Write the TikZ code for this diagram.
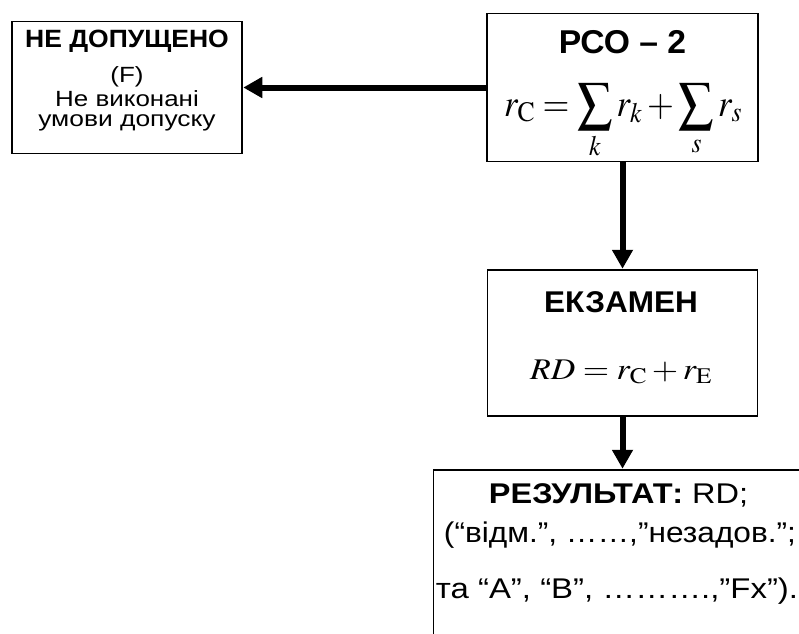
\documentclass[tikz,border=0pt]{standalone}
\usepackage{mathptmx}
\usepackage[no-math]{fontspec}
\setmainfont{Liberation Sans}
\usepackage{graphicx}
\usetikzlibrary{arrows.meta}
\begin{document}
\begin{tikzpicture}[x=1pt,y=-1pt,
  box/.style={draw, line width=1.5pt, inner sep=0pt, fill=white},
  txt/.style={inner sep=0pt, anchor=base},
  flow/.style={line width=6pt, -{Triangle[length=19pt,width=20pt]}, shorten >=0.5pt}]
\useasboundingbox (0,0) rectangle (799,633);
% boxes
\node[box, minimum width=230pt, minimum height=132pt] (ne) at (127,87.5) {};
\node[box, minimum width=271pt, minimum height=148pt] (pco) at (622.5,87.5) {};
\node[box, minimum width=270pt, minimum height=146pt] (ekz) at (622.5,343) {};
\node[box, minimum width=378pt, minimum height=260pt] (res) at (622.5,600) {};
% texts
\node[txt, font=\bfseries\fontsize{25}{25}\selectfont] (ne1) at (127,47) {\scalebox{1.06}[1]{НЕ ДОПУЩЕНО}};
\node[txt, font=\fontsize{22}{22}\selectfont] (ne2) at (127,82) {\scalebox{1.18}[1]{(F)}};
\node[txt, font=\fontsize{22}{22}\selectfont] (ne3) at (127,106) {\scalebox{1.18}[1]{Не виконані}};
\node[txt, font=\fontsize{22}{22}\selectfont] (ne4) at (127,126.5) {\scalebox{1.2}[1]{умови допуску}};
\node[txt, font=\bfseries\fontsize{33}{33}\selectfont] (pco1) at (622.5,53) {\scalebox{1.02}[1]{РСО – 2}};
\node[txt, font=\fontsize{38}{40}\selectfont] (pco2) at (623,116) {\scalebox{0.91}[1]{$\displaystyle r_{\mathrm{C}}=\sum_k r_k+\sum_s r_s$}};
\node[txt, font=\bfseries\fontsize{30}{30}\selectfont] (ekz1) at (621,312) {\scalebox{1.05}[1]{ЕКЗАМЕН}};
\node[txt, font=\fontsize{30}{30}\selectfont] (ekz2) at (621,379) {\scalebox{1.13}[1]{$RD=r_{\mathrm{C}}+r_{\mathrm{E}}$}};
\node[txt, font=\fontsize{28.5}{28}\selectfont] (res1) at (618.5,503) {\scalebox{1.14}[1]{\textbf{РЕЗУЛЬТАТ:} RD;}};
\node[txt, font=\fontsize{28.5}{28}\selectfont] (res2) at (620,542) {\scalebox{1.11}[1]{(“відм.”, ……,”незадов.”;}};
\node[txt, font=\fontsize{28.5}{28}\selectfont] (res3) at (617,598) {\scalebox{1.155}[1]{та “A”, “B”, ……….,”Fx”).}};
% connectors
\draw[flow] (pco) -- (ne);
\draw[flow] (pco) -- (ekz);
\draw[flow] (ekz) -- (res);
\end{tikzpicture}
\end{document}
